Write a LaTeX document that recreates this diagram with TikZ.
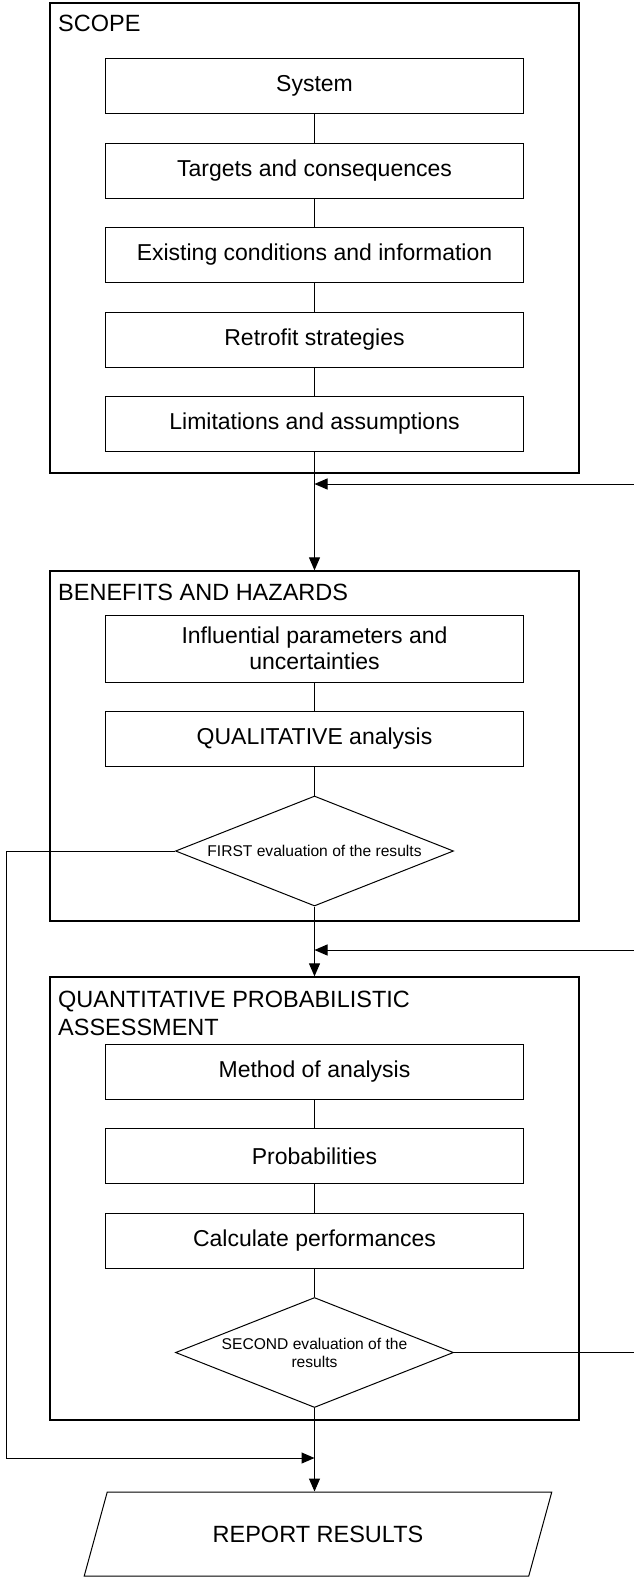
\documentclass[tikz,border=0pt]{standalone}
\usepackage{fontspec}
\setmainfont{Liberation Sans}
\usetikzlibrary{arrows.meta, positioning, shapes.geometric}

\begin{document}
\begin{tikzpicture}[x=1pt, y=-1pt,
    box/.style={draw, line width=1pt, minimum width=418pt, minimum height=55pt, align=center, font=\fontsize{23}{26}\selectfont},
    group/.style={draw, line width=1.3pt, minimum width=529pt},
    grouplabel/.style={anchor=base west, inner sep=0pt, align=left, font=\fontsize{23.5}{28}\selectfont},
    check/.style={draw, diamond, aspect=2.5, line width=1pt, inner sep=0pt, minimum width=278pt, minimum height=110pt, align=center, font=\fontsize{15.6}{18}\selectfont},
    arr/.style={-{Triangle[length=13pt,width=11pt]}, line width=1pt},
    node distance=28.5pt]
    \useasboundingbox (0,0) rectangle (634,1579);

    % SCOPE
    \node[group, minimum height=470pt] (scope) at (314.5,238) {};
    \node[grouplabel] (scopelbl) at (58,32) {SCOPE};
    \node[box] (sys) at (314.5,86) {System};
    \node[box, below=of sys] (tgt) {Targets and consequences};
    \node[box, below=of tgt] (exist) {Existing conditions and information};
    \node[box, below=of exist] (retro) {Retrofit strategies};
    \node[box, below=of retro] (limit) {Limitations and assumptions};

    % BENEFITS AND HAZARDS
    \node[group, minimum height=350pt] (bh) at (314.5,746) {};
    \node[grouplabel] (bhlbl) at (58,600) {BENEFITS AND HAZARDS};
    \node[box, minimum height=67pt] (infl) at (314.5,648.5) {Influential parameters and\\uncertainties};
    \node[box, below=28pt of infl] (qual) {QUALITATIVE analysis};
    \node[check, below=29pt of qual] (first) {FIRST evaluation of the results};

    % QUANTITATIVE PROBABILISTIC ASSESSMENT
    \node[group, minimum height=443pt] (qpa) at (314.5,1198.5) {};
    \node[grouplabel] (qpalbl) at (58,1035) {QUANTITATIVE PROBABILISTIC\\ASSESSMENT};
    \node[box] (method) at (314.5,1071.5) {Method of analysis};
    \node[box, below=of method] (prob) {Probabilities};
    \node[box, below=of prob] (calc) {Calculate performances};
    \node[check, below=of calc] (second) {SECOND evaluation of the\\results};

    % REPORT
    \node[draw, trapezium, trapezium left angle=63, trapezium right angle=117, trapezium stretches=true,
          minimum width=469pt, minimum height=84pt, line width=1pt, font=\fontsize{23.5}{26}\selectfont] (report) at (318,1534) {REPORT RESULTS};

    \coordinate (back1) at (634,484);
    \coordinate (back2) at (634,950);
    \coordinate (rightx) at (634,0);
    \coordinate (leftx) at (6,0);
    \coordinate (join) at (314.5,1458);

    \draw[line width=1pt] (sys) -- (tgt) -- (exist) -- (retro) -- (limit);
    \draw[line width=1pt] (infl) -- (qual) -- (first);
    \draw[line width=1pt] (method) -- (prob) -- (calc) -- (second);
    \draw[arr] (limit.south) -- (bh.north);
    \draw[arr] (back1) -- (back1 -| limit.south);
    \draw[arr] (first.south) -- (qpa.north);
    \draw[arr] (back2) -- (back2 -| first.south);
    \draw[line width=1pt] (second.east) -- (second.east -| rightx);
    \draw[arr] (first.west) -- (first.west -| leftx) |- (join);
    \draw[arr] (second.south) -- (second.south |- report.north);
\end{tikzpicture}
\end{document}
